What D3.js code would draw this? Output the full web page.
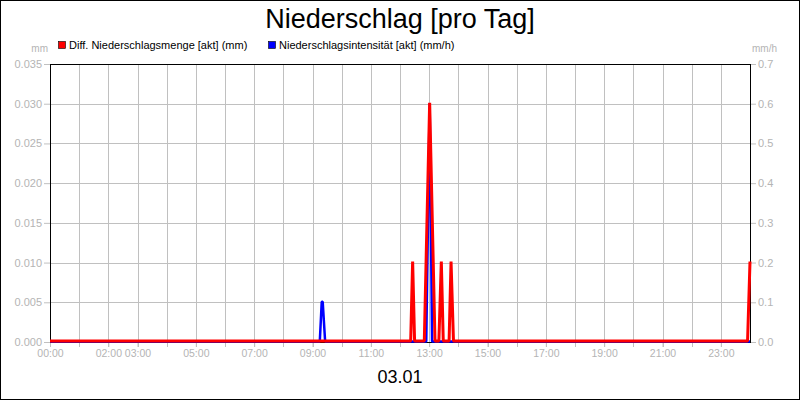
<!DOCTYPE html>
<html><head><meta charset="utf-8">
<script src="https://cdn.jsdelivr.net/npm/d3@7"></script>
<style>
body{margin:0;background:#fff;}
svg text{font-family:"Liberation Sans",Arial,sans-serif;}
</style></head>
<body><svg id="c" width="800" height="400"></svg>
<script>
// ---- data ----
const title = "Niederschlag [pro Tag]";
const dateLabel = "03.01";
const seriesNames = ["Diff. Niederschlagsmenge [akt] (mm)", "Niederschlagsintensität [akt] (mm/h)"];
const leftUnit = "mm", rightUnit = "mm/h";
// minutes of day, values (mm)
const redMinutes = [0, 742, 746, 750, 770, 781, 792, 800, 805, 809, 821, 825, 830, 1435, 1440];
const redValues  = [0, 0, 0.01, 0, 0, 0.03, 0, 0, 0.01, 0, 0, 0.01, 0, 0, 0.01];
// minutes of day, values (mm/h)
const blueMinutes = [0, 555, 559, 561, 566, 774, 781, 786, 1440];
const blueValues  = [0, 0, 0.1, 0.1, 0, 0, 0.6, 0, 0];
const xTickHours = [0, 2, 3, 5, 7, 9, 11, 13, 15, 17, 19, 21, 23];
const xTickLabels = ["00:00","02:00","03:00","05:00","07:00","09:00","11:00","13:00","15:00","17:00","19:00","21:00","23:00"];
const leftTicks = [0, 0.005, 0.010, 0.015, 0.020, 0.025, 0.030, 0.035];
const rightTicks = [0, 0.1, 0.2, 0.3, 0.4, 0.5, 0.6, 0.7];

// ---- layout ----
const L = 50, R = 750, T = 64, B = 342;
const svg = d3.select("#c");
const x = d3.scaleLinear().domain([0, 1440]).range([L, R]);
const yL = d3.scaleLinear().domain([0, 0.035]).range([B, T]);
const yR = d3.scaleLinear().domain([0, 0.7]).range([B, T]);
const gridColor = "#c0c0c0", tickText = "#b4b4b4";

svg.append("rect").attr("x",0.5).attr("y",0.5).attr("width",799).attr("height",399)
  .attr("fill","#fff").attr("stroke","#000");

svg.append("text").attr("x",400).attr("y",28).attr("text-anchor","middle")
  .attr("font-size",27).attr("fill","#000").text(title);

// legend
const leg = [{c:"#ff0000", x:58, name:seriesNames[0]}, {c:"#0000ff", x:268, name:seriesNames[1]}];
leg.forEach(d=>{
  svg.append("rect").attr("x",d.x+0.5).attr("y",41.5).attr("width",7).attr("height",7)
    .attr("fill",d.c).attr("stroke","#000").attr("stroke-width",0.6);
  svg.append("text").attr("x",d.x+11).attr("y",48.5).attr("font-size",11).attr("fill","#000").text(d.name);
});

// units
svg.append("text").attr("x",48).attr("y",52).attr("text-anchor","end").attr("font-size",10).attr("fill",tickText).text(leftUnit);
svg.append("text").attr("x",752).attr("y",52).attr("font-size",10).attr("fill",tickText).text(rightUnit);

// grid
const hours = d3.range(1, 24);
svg.append("g").selectAll("line").data(hours).join("line")
  .attr("x1",d=>Math.round(x(d*60))+0.5).attr("x2",d=>Math.round(x(d*60))+0.5)
  .attr("y1",T).attr("y2",B+5).attr("stroke",gridColor);
svg.append("g").selectAll("line").data(leftTicks.slice(1,-1)).join("line")
  .attr("x1",L).attr("x2",R).attr("y1",d=>Math.round(yL(d))+0.5).attr("y2",d=>Math.round(yL(d))+0.5)
  .attr("stroke",gridColor);

// axes
const axL = d3.axisLeft(yL).tickValues(leftTicks).tickFormat(d3.format(".3f")).tickSize(6).tickPadding(2);
const gL = svg.append("g").attr("transform",`translate(${L},0)`).call(axL);
const axR = d3.axisRight(yR).tickValues(rightTicks).tickFormat(d3.format(".1f")).tickSize(6).tickPadding(2);
const gR = svg.append("g").attr("transform",`translate(${R},0)`).call(axR);
const axB = d3.axisBottom(x).tickValues(xTickHours.map(h=>h*60)).tickFormat((d,i)=>xTickLabels[i]).tickSize(5).tickPadding(3);
const gB = svg.append("g").attr("transform",`translate(0,${B})`).call(axB);
[gL,gR,gB].forEach(g=>{
  g.select(".domain").remove();
  g.selectAll(".tick line").attr("stroke",gridColor);
  g.selectAll("text").attr("fill",tickText).attr("font-size",11).attr("font-family","Liberation Sans, Arial, sans-serif");
});
gB.selectAll("text").attr("font-size",10.5);

// frame
svg.append("rect").attr("x",L+0.5).attr("y",T+0.5).attr("width",R-L).attr("height",B-T)
  .attr("fill","none").attr("stroke","#000");

// lines
const blueData = blueMinutes.map((m,i)=>[m, blueValues[i]]);
const redData = redMinutes.map((m,i)=>[m, redValues[i]]);
svg.append("path").datum(blueData)
  .attr("d", d3.line().x(d=>x(d[0])).y(d=>yR(d[1])-0.5))
  .attr("fill","none").attr("stroke","#0000ff").attr("stroke-width",2.5).attr("stroke-linejoin","bevel");
svg.append("path").datum(redData)
  .attr("d", d3.line().x(d=>x(d[0])).y(d=>yL(d[1])-1))
  .attr("fill","none").attr("stroke","#ff0000").attr("stroke-width",3).attr("stroke-linejoin","bevel");

// date label
svg.append("text").attr("x",400).attr("y",383).attr("text-anchor","middle").attr("font-size",18)
  .attr("fill","#000").text(dateLabel);
</script></body></html>
